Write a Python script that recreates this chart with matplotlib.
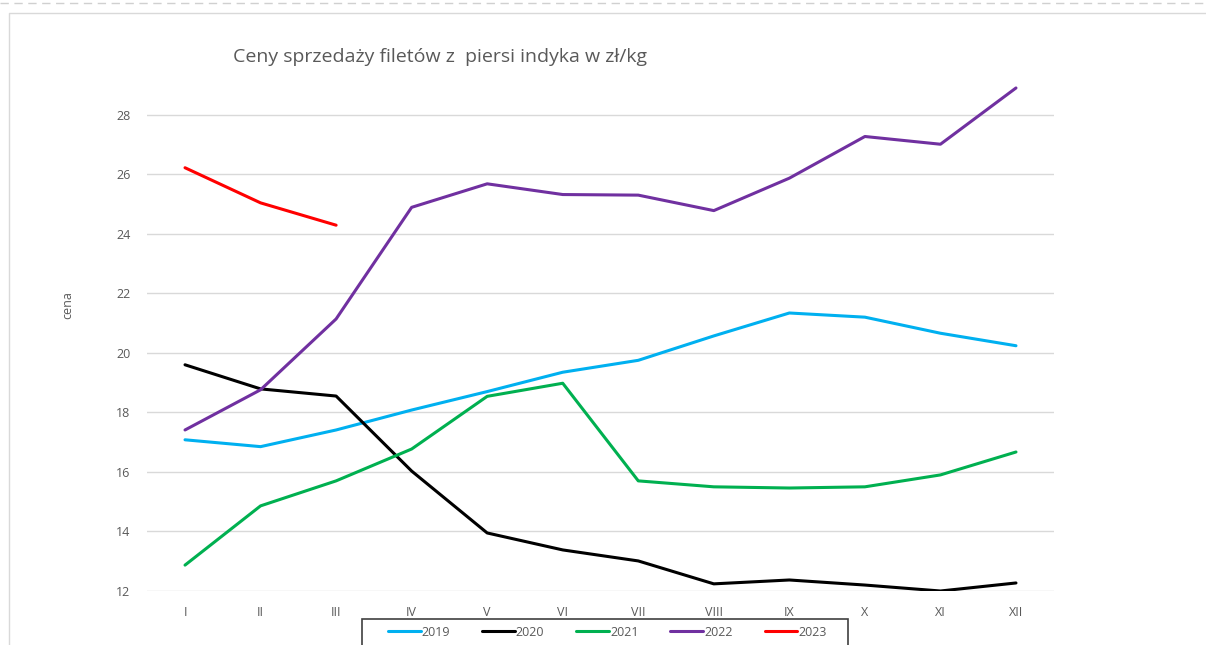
import matplotlib
matplotlib.use("Agg")
import matplotlib.pyplot as plt
from matplotlib.lines import Line2D
from matplotlib.patches import Rectangle

plt.rcParams['font.family'] = ['Open Sans', 'DejaVu Sans']

# months as roman numerals
months = ['I', 'II', 'III', 'IV', 'V', 'VI', 'VII', 'VIII', 'IX', 'X', 'XI', 'XII']

# prices in zl/kg
y2019 = [17.08, 16.85, 17.41, 18.08, 18.70, 19.35, 19.75, 20.57, 21.34, 21.20, 20.66, 20.24]
y2020 = [19.60, 18.79, 18.55, 16.03, 13.95, 13.38, 13.01, 12.24, 12.37, 12.20, 12.00, 12.27]
y2021 = [12.87, 14.86, 15.70, 16.77, 18.54, 18.98, 15.70, 15.50, 15.46, 15.50, 15.90, 16.67]
y2022 = [17.41, 18.76, 21.14, 24.89, 25.68, 25.32, 25.30, 24.78, 25.87, 27.27, 27.01, 28.90]
y2023 = [26.22, 25.04, 24.29]

series = [('2019', y2019, '#00B0F0'),
          ('2020', y2020, '#000000'),
          ('2021', y2021, '#00B050'),
          ('2022', y2022, '#7030A0'),
          ('2023', y2023, '#FF0000')]

W, H = 1206, 645
fig = plt.figure(figsize=(W / 100, H / 100), dpi=100)

# chart frame like excel
fig.add_artist(Line2D([0, 1], [1 - 2.5 / H, 1 - 2.5 / H], color='#D0D0D0', lw=1, ls=(0, (6, 4))))
fig.add_artist(Line2D([8.5 / W, 8.5 / W, 1], [0, 1 - 13 / H, 1 - 13 / H], color='#D9D9D9', lw=1))

ax = fig.add_axes([147.25 / W, 54 / H, 906.5 / W, 506 / H])
x = list(range(len(months)))
for name, vals, col in series:
    ax.plot(x[:len(vals)], vals, color=col, lw=2.2, label=name, solid_capstyle='round',
            solid_joinstyle='round')

ax.set_xlim(-0.5, 11.5)
ax.set_ylim(12, 29)
ax.set_yticks(range(12, 29, 2))
ax.set_xticks(x)
ax.set_xticklabels(months)
ax.grid(axis='y', color='#D9D9D9', lw=1)
ax.set_axisbelow(True)
for s in ax.spines.values():
    s.set_visible(False)
ax.tick_params(length=0, colors='#595959', labelsize=9)
ax.tick_params(axis='y', pad=12)
ax.tick_params(axis='x', pad=11)

fig.text(440 / W, 1 - 57 / H, 'Ceny sprzedaży filetów z  piersi indyka w zł/kg',
         ha='center', va='center', fontsize=14, color='#595959')
fig.text(68 / W, 1 - 305 / H, 'cena', rotation=90, ha='center', va='center',
         fontsize=9, color='#595959')

# legend box (cut off at the bottom, as in the reference)
fig.add_artist(Rectangle((362 / W, -0.05), 486 / W, 0.05 + 1 - 619 / H,
                         transform=fig.transFigure, fill=False, ec='#404040', lw=1.2))
leg = fig.legend(loc='center left', bbox_to_anchor=(388 / W, 1 - 632 / H), ncol=5,
                 fontsize=9, handlelength=2.6, handletextpad=0.1, columnspacing=2.55,
                 frameon=False, borderpad=0, borderaxespad=0)
for t in leg.get_texts():
    t.set_color('#595959')

fig.savefig('out.png', dpi=100)
